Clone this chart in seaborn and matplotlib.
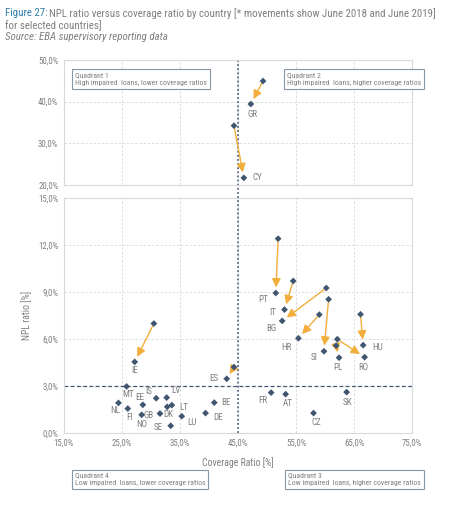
import numpy as np
import pandas as pd
import matplotlib
matplotlib.use("Agg")
import matplotlib.pyplot as plt
import seaborn as sns

# countries with 2018 -> 2019 movements
move_ctry = ["GR", "CY", "PT", "IT", "BG", "HR", "SI", "PL", "RO", "HU", "IE", "ES"]
cov_2018 = [49.3, 44.3, 51.9, 54.5, 60.2, 59.0, 60.6, 61.9, 62.1, 66.1, 30.5, 44.3]
npl_2018 = [44.9, 34.2, 12.4, 9.7, 9.25, 7.55, 8.53, 5.57, 5.98, 7.57, 6.98, 4.2]
cov_2019 = [47.2, 46.0, 51.5, 53.0, 52.6, 55.4, 59.8, 62.4, 66.8, 66.55, 27.2, 43.05]
npl_2019 = [39.4, 21.7, 8.93, 7.87, 7.15, 6.04, 5.21, 4.8, 4.83, 5.6, 4.53, 3.45]

# countries with a single (June 2019) point
ctry = ["MT", "NL", "FI", "EE", "NO", "IS", "GB", "LV", "DK", "LT", "SE", "LU",
        "DE", "BE", "FR", "AT", "SK", "CZ"]
cov = [25.8, 24.4, 26.0, 28.6, 28.4, 30.9, 31.55, 32.7, 32.8, 33.6, 33.4, 35.3,
       39.4, 40.9, 50.7, 53.2, 63.7, 58.0]
npl = [2.96, 1.91, 1.55, 1.79, 1.15, 2.21, 1.23, 2.25, 1.66, 1.77, 0.45, 1.06,
       1.26, 1.93, 2.57, 2.47, 2.6, 1.26]

x_ticks = [15, 25, 35, 45, 55, 65, 75]
y_ticks_low = [0, 3, 6, 9, 12, 15]
y_ticks_high = [20, 30, 40, 50]

# label offsets in pixels (dx, dy)
lab_off = {"GR": (2, -10), "CY": (9, 0), "PT": (-8, -6), "IT": (-8, -3), "BG": (-6, -8),
           "HR": (-7, -9), "SI": (-6, -6), "PL": (-1, -10), "RO": (-1, -10), "HU": (9, -2),
           "IE": (0, -9), "ES": (-8, 0), "MT": (1, -8), "NL": (-3, -8), "FI": (2, -9),
           "EE": (-3, 7), "NO": (0, -10), "IS": (-4, 7), "GB": (-6, -2), "LV": (5, 7),
           "DK": (1, -8), "LT": (7, -2), "SE": (-8, -2), "LU": (6, -6), "DE": (8, -4),
           "BE": (7, 0), "FR": (-4, -8), "AT": (2, -9), "SK": (1, -10), "CZ": (3, -9)}

sns.set_theme(style="white")
plt.rcParams["font.family"] = ["Liberation Sans Narrow", "DejaVu Sans Condensed",
                               "Roboto Condensed", "Roboto", "DejaVu Sans"]

navy = "#3f5570"
orange = "#f2ae3c"
grey_txt = "#7f7f7f"
fs = 6.3
lab_fs = 6.5

moves = pd.DataFrame({"ctry": move_ctry, "x18": cov_2018, "y18": npl_2018,
                      "x19": cov_2019, "y19": npl_2019})
single = pd.DataFrame({"ctry": ctry, "x": cov, "y": npl})

fig = plt.figure(figsize=(4.5, 5.11), dpi=100)
ax_hi = fig.add_axes([0.142, 0.638, 0.774, 0.245])
ax_lo = fig.add_axes([0.142, 0.153, 0.774, 0.4595])


def fit_size(txt, width_px, start):
    # shrink/grow font so that the text spans about width_px
    r = fig.canvas.get_renderer()
    t = fig.text(0, 0, txt, fontsize=start)
    w = t.get_window_extent(r).width
    t.remove()
    return start * width_px / w


hi = moves[moves.y18 > 15]
lo = moves[moves.y18 <= 15]

for ax, mv, yt in [(ax_hi, hi, y_ticks_high), (ax_lo, lo, y_ticks_low)]:
    ax.set_xlim(15, 75)
    ax.set_ylim(yt[0], yt[-1])
    ax.set_xticks(x_ticks)
    ax.set_yticks(yt)
    ax.grid(True, color="#d9d9d9", ls=(0, (3, 2)), lw=0.6)
    for s in ax.spines.values():
        s.set_color("#d9d9d9")
        s.set_linewidth(0.8)
    ax.tick_params(length=0, labelsize=fs, colors=grey_txt, pad=4)
    ax.set_yticklabels([f"{v:.1f}%".replace(".", ",") for v in yt])
    for _, r in mv.iterrows():
        ax.annotate("", xy=(r.x19, r.y19), xytext=(r.x18, r.y18),
                    arrowprops=dict(arrowstyle="-|>", color=orange, lw=1.0,
                                    mutation_scale=13, shrinkA=2, shrinkB=4))
    pts = pd.concat([mv[["x18", "y18"]].set_axis(["x", "y"], axis=1),
                     mv[["x19", "y19"]].set_axis(["x", "y"], axis=1)])
    sns.scatterplot(data=pts, x="x", y="y", marker="D", s=12, color=navy,
                    edgecolor="none", ax=ax, zorder=5)
    for _, r in mv.iterrows():
        dx, dy = lab_off[r.ctry]
        ha = "center" if abs(dx) < 4 else ("left" if dx > 0 else "right")
        ax.annotate(r.ctry, (r.x19, r.y19), xytext=(dx, dy), textcoords="offset pixels",
                    ha=ha, va="center", fontsize=lab_fs, color=grey_txt)
    ax.set_xlabel("")
    ax.set_ylabel("")

ax_hi.set_xticklabels([])
ax_lo.set_xticklabels([f"{v:.1f}%".replace(".", ",") for v in x_ticks])

sns.scatterplot(data=single, x="x", y="y", marker="D", s=12, color=navy,
                edgecolor="none", ax=ax_lo, zorder=5)
for _, r in single.iterrows():
    dx, dy = lab_off[r.ctry]
    ha = "center" if abs(dx) < 4 else ("left" if dx > 0 else "right")
    ax_lo.annotate(r.ctry, (r.x, r.y), xytext=(dx, dy), textcoords="offset pixels",
                   ha=ha, va="center", fontsize=lab_fs, color=grey_txt)

# quadrant separators
ax_hi.axvline(45, ymin=-0.104, ymax=1, color=navy, ls=(0, (1.2, 1.5)), lw=1.1, clip_on=False)
ax_lo.axvline(45, color=navy, ls=(0, (1.2, 1.5)), lw=1.1)
ax_lo.axhline(3, color=navy, ls=(0, (3, 2)), lw=0.9)

ax_lo.set_xlabel("Coverage Ratio [%]", fontsize=fs + 0.7, color=grey_txt, labelpad=7)
ax_lo.set_ylabel("NPL ratio [%]", fontsize=fs + 0.7, color=grey_txt, labelpad=4)

# quadrant boxes
q_fs = fit_size("High impaired  loans, higher coverage ratios", 134, 6)
box = dict(boxstyle="square,pad=0.4", fc="white", ec="#8797a8", lw=0.8)
quads = [(0.166, 0.858, "Quadrant 1\nHigh impaired  loans, lower coverage ratios"),
         (0.638, 0.858, "Quadrant 2\nHigh impaired  loans, higher coverage ratios"),
         (0.166, 0.075, "Quadrant 4\nLow impaired  loans, lower coverage ratios"),
         (0.64, 0.075, "Quadrant 3\nLow impaired  loans, higher coverage ratios")]
for qx, qy, qt in quads:
    fig.text(qx, qy, qt, fontsize=q_fs, color=grey_txt, va="top", ha="left",
             linespacing=1.25, bbox=box, zorder=10)

# title
line1 = "NPL ratio versus coverage ratio by country [* movements show June 2018 and June 2019]"
t_fs = fit_size("Figure 27: " + line1, 432, 7)
t1 = fig.text(0.011, 0.985, "Figure 27:", fontsize=t_fs, color="#2f7ea8", va="top")
fig.canvas.draw()
bb = t1.get_window_extent()
fig.text(bb.x1 / fig.bbox.width + 0.004, 0.985, line1,
         fontsize=t_fs, color=grey_txt, va="top")
fig.text(0.011, 0.961, "for selected countries]", fontsize=t_fs, color=grey_txt, va="top")
fig.text(0.011, 0.937, "Source: EBA supervisory reporting data", fontsize=t_fs,
         color=grey_txt, va="top", style="italic")

plt.savefig("out.png", dpi=100)
